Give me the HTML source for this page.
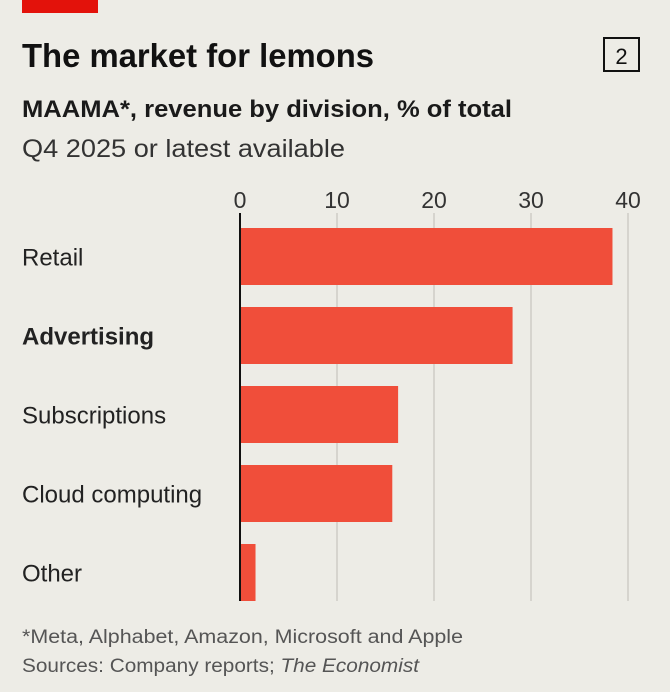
<!DOCTYPE html>
<html><head><meta charset="utf-8"><style>
html,body{margin:0;padding:0;background:#edece6;}
svg{display:block;font-family:"Liberation Sans",sans-serif;}
</style></head><body>
<svg id="chart" width="670" height="692" viewBox="0 0 670 692">
<rect x="0" y="0" width="670" height="692" fill="#edece6"/>
<rect x="22" y="0" width="76" height="13" fill="#e3120b"/>
<text x="22" y="67" font-size="33" font-weight="bold" fill="#111" textLength="352" lengthAdjust="spacingAndGlyphs">The market for lemons</text>
<rect x="604" y="38" width="35" height="33" fill="none" stroke="#111" stroke-width="2"/>
<text x="621.5" y="64" font-size="22" text-anchor="middle" fill="#111">2</text>
<text x="22" y="117" font-size="24" font-weight="bold" fill="#1a1a1a" textLength="490" lengthAdjust="spacingAndGlyphs">MAAMA*, revenue by division, % of total</text>
<text x="22" y="157" font-size="25" fill="#333" textLength="323" lengthAdjust="spacingAndGlyphs">Q4 2025 or latest available</text>
<g id="grid"></g>
<g id="bars"></g>
<g id="labels"></g>
<text x="22" y="643" font-size="19" fill="#555" textLength="441" lengthAdjust="spacingAndGlyphs">*Meta, Alphabet, Amazon, Microsoft and Apple</text>
<text x="22" y="672" font-size="19" fill="#555" textLength="397" lengthAdjust="spacingAndGlyphs">Sources: Company reports; <tspan font-style="italic">The Economist</tspan></text>
</svg>
<script>
const categories = ["Retail","Advertising","Subscriptions","Cloud computing","Other"];
const values = [38.4, 28.1, 16.3, 15.7, 1.6];
const boldFlags = [false, true, false, false, false];
const ticks = [0,10,20,30,40];

const NS="http://www.w3.org/2000/svg";
const x0=240, x1=628, vmax=40;
const xs = v => x0 + (v/vmax)*(x1-x0);
const rowTop=228, rowStep=79, barH=57;
const gridTop=213, gridBot=601;
const grid=document.getElementById('grid'), bars=document.getElementById('bars'), labels=document.getElementById('labels');
function mk(tag, attrs){const e=document.createElementNS(NS,tag);for(const k in attrs)e.setAttribute(k,attrs[k]);return e;}
ticks.forEach((t,i)=>{
  const l=mk('line',{x1:xs(t),x2:xs(t),y1:gridTop,y2:gridBot,stroke:'#c9c8c2','stroke-width':1.3});
  
  
  grid.appendChild(l);
  const tx=mk('text',{x:xs(t),y:208,'font-size':23,'text-anchor':'middle',fill:'#333'});
  tx.textContent=t;
  
  
  grid.appendChild(tx);
});
categories.forEach((c,i)=>{
  const y=rowTop+i*rowStep;
  const r=mk('rect',{x:x0,y:y,width:xs(values[i])-x0,height:barH,fill:'#f04e3a'});
  
  
  bars.appendChild(r);
  const t=mk('text',{x:22,y:y+barH/2+9,'font-size':24,fill:'#222','font-weight':boldFlags[i]?'bold':'normal'});
  t.textContent=c;
  
  
  labels.appendChild(t);
});
const ax=mk('line',{x1:x0,x2:x0,y1:gridTop,y2:gridBot,stroke:'#111','stroke-width':2});


bars.appendChild(ax);
</script>
</body></html>
